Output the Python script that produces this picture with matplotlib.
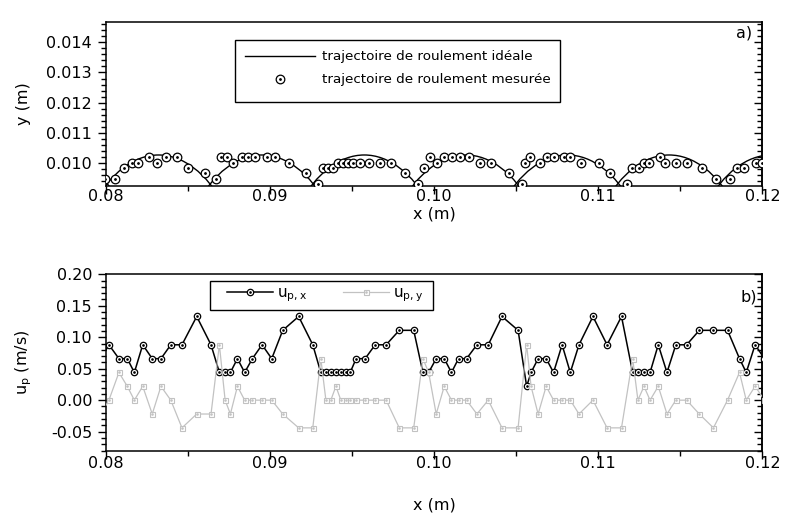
import matplotlib
matplotlib.use("Agg")
import matplotlib.pyplot as plt
from matplotlib.patches import Circle, Rectangle
from matplotlib.lines import Line2D
from matplotlib.ticker import MultipleLocator, FormatStrFormatter

plt.rcParams['font.family'] = ['DejaVu Sans']
plt.rcParams['mathtext.fontset'] = 'dejavusans'

# ---------------- data: panel a) ----------------
# measured rolling trajectory (particle centre positions)
traj_x = [0.07994, 0.08055, 0.08110, 0.08157, 0.08193, 0.08262, 0.08313, 0.08366, 0.08431, 0.08498,
          0.08604, 0.08671, 0.08699, 0.08736, 0.08776, 0.08827, 0.08868, 0.08909, 0.08980, 0.09030,
          0.09118, 0.09220, 0.09290, 0.09323, 0.09354, 0.09384, 0.09415, 0.09445, 0.09476, 0.09503,
          0.09546, 0.09601, 0.09668, 0.09738, 0.09823, 0.09904, 0.09935, 0.09976, 0.10016, 0.10061,
          0.10108, 0.10159, 0.10209, 0.10280, 0.10348, 0.10453, 0.10535, 0.10555, 0.10585, 0.10642,
          0.10687, 0.10727, 0.10788, 0.10829, 0.10894, 0.11002, 0.11073, 0.11175, 0.11205, 0.11246,
          0.11276, 0.11307, 0.11374, 0.11409, 0.11476, 0.11541, 0.11632, 0.11718, 0.11805, 0.11846,
          0.11887, 0.11959, 0.11998]
traj_y = [0.00949, 0.00949, 0.00984, 0.01002, 0.01002, 0.01020, 0.01002, 0.01020, 0.01020, 0.00984,
          0.00967, 0.00949, 0.01020, 0.01020, 0.01002, 0.01020, 0.01020, 0.01020, 0.01020, 0.01020,
          0.01002, 0.00967, 0.00932, 0.00984, 0.00984, 0.00984, 0.01002, 0.01002, 0.01002, 0.01002,
          0.01002, 0.01002, 0.01002, 0.01002, 0.00967, 0.00932, 0.00984, 0.01020, 0.01002, 0.01020,
          0.01020, 0.01020, 0.01020, 0.01002, 0.01002, 0.00967, 0.00932, 0.01002, 0.01020, 0.01002,
          0.01020, 0.01020, 0.01020, 0.01020, 0.01002, 0.01002, 0.00967, 0.00932, 0.00984, 0.00984,
          0.01002, 0.01002, 0.01020, 0.01002, 0.01002, 0.01002, 0.00984, 0.00949, 0.00949, 0.00984,
          0.00984, 0.01002, 0.01002]

# ideal rolling trajectory: circular arcs around the bed particles
arc_center_x = [0.07695, 0.08320, 0.08949, 0.09574, 0.10192, 0.10811, 0.11431, 0.12054]
arc_center_y = 0.004634
arc_radius = 0.00564

# ---------------- data: panel b) ----------------
vel_x = [0.07970, 0.08018, 0.08079, 0.08130, 0.08173, 0.08224, 0.08282, 0.08335, 0.08395, 0.08463,
         0.08553, 0.08640, 0.08691, 0.08726, 0.08758, 0.08801, 0.08845, 0.08892, 0.08951, 0.09010,
         0.09077, 0.09174, 0.09260, 0.09309, 0.09340, 0.09370, 0.09401, 0.09431, 0.09462, 0.09488,
         0.09524, 0.09579, 0.09640, 0.09707, 0.09787, 0.09875, 0.09931, 0.09966, 0.10012, 0.10061,
         0.10105, 0.10148, 0.10197, 0.10260, 0.10329, 0.10413, 0.10511, 0.10563, 0.10590, 0.10633,
         0.10682, 0.10727, 0.10779, 0.10829, 0.10882, 0.10967, 0.11053, 0.11141, 0.11209, 0.11241,
         0.11278, 0.11315, 0.11365, 0.11418, 0.11472, 0.11538, 0.11615, 0.11701, 0.11787, 0.11860,
         0.11901, 0.11955, 0.12012]
u_px = [0.066, 0.088, 0.066, 0.066, 0.044, 0.088, 0.066, 0.066, 0.088, 0.088,
        0.133, 0.088, 0.044, 0.044, 0.044, 0.066, 0.044, 0.066, 0.088, 0.066,
        0.111, 0.133, 0.088, 0.044, 0.044, 0.044, 0.044, 0.044, 0.044, 0.044,
        0.066, 0.066, 0.088, 0.088, 0.111, 0.111, 0.044, 0.044, 0.066, 0.066,
        0.044, 0.066, 0.066, 0.088, 0.088, 0.133, 0.111, 0.022, 0.044, 0.066,
        0.066, 0.044, 0.088, 0.044, 0.088, 0.133, 0.088, 0.133, 0.044, 0.044,
        0.044, 0.044, 0.088, 0.044, 0.088, 0.088, 0.111, 0.111, 0.111, 0.066,
        0.044, 0.088, 0.066]
u_py = [-0.022, 0.0, 0.044, 0.022, 0.0, 0.022, -0.022, 0.022, 0.0, -0.044,
        -0.022, -0.022, 0.088, 0.0, -0.022, 0.022, 0.0, 0.0, 0.0, 0.0,
        -0.022, -0.044, -0.044, 0.066, 0.0, 0.0, 0.022, 0.0, 0.0, 0.0,
        0.0, 0.0, 0.0, 0.0, -0.044, -0.044, 0.066, 0.044, -0.022, 0.022,
        0.0, 0.0, 0.0, -0.022, 0.0, -0.044, -0.044, 0.088, 0.022, -0.022,
        0.022, 0.0, 0.0, 0.0, -0.022, 0.0, -0.044, -0.044, 0.066, 0.0,
        0.022, 0.0, 0.022, -0.022, 0.0, 0.0, -0.022, -0.044, 0.0, 0.044,
        0.0, 0.022, 0.0]

xticks = [0.08, 0.09, 0.10, 0.11, 0.12]
GRAY = '#c2c2c2'
FS = 11.5

fig = plt.figure(figsize=(7.89, 5.17), dpi=100)
ax1 = fig.add_axes([0.1343, 0.6397, 0.8321, 0.3184])
ax2 = fig.add_axes([0.1343, 0.1286, 0.8321, 0.3408])


def style_axis(ax, ymaj, ymin, fmt, xpad):
    ax.set_xlim(0.08, 0.12)
    ax.set_xticks(xticks)
    ax.xaxis.set_major_formatter(FormatStrFormatter('%.2f'))
    ax.xaxis.set_minor_locator(MultipleLocator(0.005))
    ax.yaxis.set_major_locator(MultipleLocator(ymaj))
    ax.yaxis.set_minor_locator(MultipleLocator(ymin))
    ax.yaxis.set_major_formatter(FormatStrFormatter(fmt))
    ax.tick_params(which='both', direction='out', width=1, labelsize=FS,
                   top=False, right=False)
    ax.tick_params(which='major', length=6)
    ax.tick_params(which='minor', length=3.5)
    ax.tick_params(axis='y', which='major', pad=4.0)
    ax.tick_params(axis='x', which='major', pad=xpad)
    for s in ax.spines.values():
        s.set_linewidth(1.1)
    sec = ax.secondary_yaxis('right')
    sec.yaxis.set_major_locator(MultipleLocator(ymaj))
    sec.yaxis.set_minor_locator(MultipleLocator(ymin))
    sec.tick_params(which='both', direction='in', width=1, labelright=False)
    sec.tick_params(which='major', length=6)
    sec.tick_params(which='minor', length=3.5)
    sec.spines['right'].set_linewidth(1.1)
    ax.xaxis.label.set_verticalalignment('center')
    ax.yaxis.label.set_verticalalignment('center')


def legend_box(ax, x0, y0, x1, y1):
    ax.add_patch(Rectangle((x0, y0), x1 - x0, y1 - y0, transform=ax.transAxes,
                           facecolor='white', edgecolor='black', linewidth=1.0,
                           zorder=4.5, clip_on=False))


# ---------------- panel a) ----------------
for cx in arc_center_x:
    ax1.add_patch(Circle((cx, arc_center_y), arc_radius, fill=False,
                         edgecolor='black', linewidth=1.0, zorder=2))
ax1.plot(traj_x, traj_y, linestyle='none', marker='o', markersize=6.2,
         markerfacecolor='white', markeredgecolor='black', markeredgewidth=0.9, zorder=3)
ax1.plot(traj_x, traj_y, linestyle='none', marker='o', markersize=1.0,
         color='black', zorder=4)
ax1.set_ylim(0.00924, 0.01468)
style_axis(ax1, 0.001, 0.0002, '%.3f', -3.9)
ax1.set_xlabel('x (m)', fontsize=FS)
ax1.set_ylabel('y (m)', fontsize=FS)
ax1.xaxis.set_label_coords(0.5, -0.171)
ax1.yaxis.set_label_coords(-0.125, 0.5)
ax1.text(0.984, 0.931, 'a)', transform=ax1.transAxes, ha='right', va='center', fontsize=FS)

h_ideal = Line2D([], [], color='black', linewidth=1.0)
h_meas = (Line2D([], [], linestyle='none', marker='o', markersize=6.2, markerfacecolor='white',
                 markeredgecolor='black', markeredgewidth=0.9),
          Line2D([], [], linestyle='none', marker='o', markersize=1.0, color='black'))
legend_box(ax1, 0.1965, 0.512, 0.6915, 0.889)
leg1 = ax1.legend([h_ideal, h_meas],
                  ['trajectoire de roulement idéale', 'trajectoire de roulement mesurée'],
                  loc='center left', bbox_to_anchor=(0.2117, 0.716), fontsize=9.7,
                  frameon=False, handlelength=5.2, borderpad=0, labelspacing=0.75,
                  handletextpad=0.5, borderaxespad=0)

# ---------------- panel b) ----------------
ax2.plot(vel_x, u_px, color='black', linewidth=1.1, marker='o', markersize=4.6,
         markerfacecolor='white', markeredgecolor='black', markeredgewidth=0.9, zorder=3)
ax2.plot(vel_x, u_px, linestyle='none', marker='o', markersize=0.9, color='black', zorder=3.1)
ax2.plot(vel_x, u_py, color=GRAY, linewidth=0.9, marker='s', markersize=3.6,
         markerfacecolor='white', markeredgecolor=GRAY, markeredgewidth=0.8, zorder=4)
ax2.plot(vel_x, u_py, linestyle='none', marker='s', markersize=0.8, color=GRAY, zorder=4.1)
ax2.set_ylim(-0.08, 0.20)
style_axis(ax2, 0.05, 0.01, '%.2f', -2.2)
ax2.set_xlabel('x (m)', fontsize=FS)
ax2.set_ylabel('u$_\\mathregular{p}$ (m/s)', fontsize=FS)
ax2.xaxis.set_label_coords(0.5, -0.309)
ax2.yaxis.set_label_coords(-0.125, 0.5)
ax2.text(0.9916, 0.871, 'b)', transform=ax2.transAxes, ha='right', va='center', fontsize=FS)

h_ux = (Line2D([], [], color='black', linewidth=1.1, marker='o', markersize=4.6,
               markerfacecolor='white', markeredgecolor='black', markeredgewidth=0.9),
        Line2D([], [], linestyle='none', marker='o', markersize=0.9, color='black'))
h_uy = (Line2D([], [], color=GRAY, linewidth=0.9, marker='s', markersize=3.6,
               markerfacecolor='white', markeredgecolor=GRAY, markeredgewidth=0.8),
        Line2D([], [], linestyle='none', marker='s', markersize=0.8, color=GRAY))
legend_box(ax2, 0.1584, 0.7974, 0.4976, 0.962)
leg2 = ax2.legend([h_ux, h_uy], ['u$_\\mathregular{p,x}$', 'u$_\\mathregular{p,y}$'],
                  loc='center left', bbox_to_anchor=(0.1843, 0.885), ncol=2, fontsize=11,
                  frameon=False, handlelength=3.0, borderpad=0, columnspacing=2.4,
                  handletextpad=0.26, borderaxespad=0)

fig.savefig('out.png', dpi=100)
